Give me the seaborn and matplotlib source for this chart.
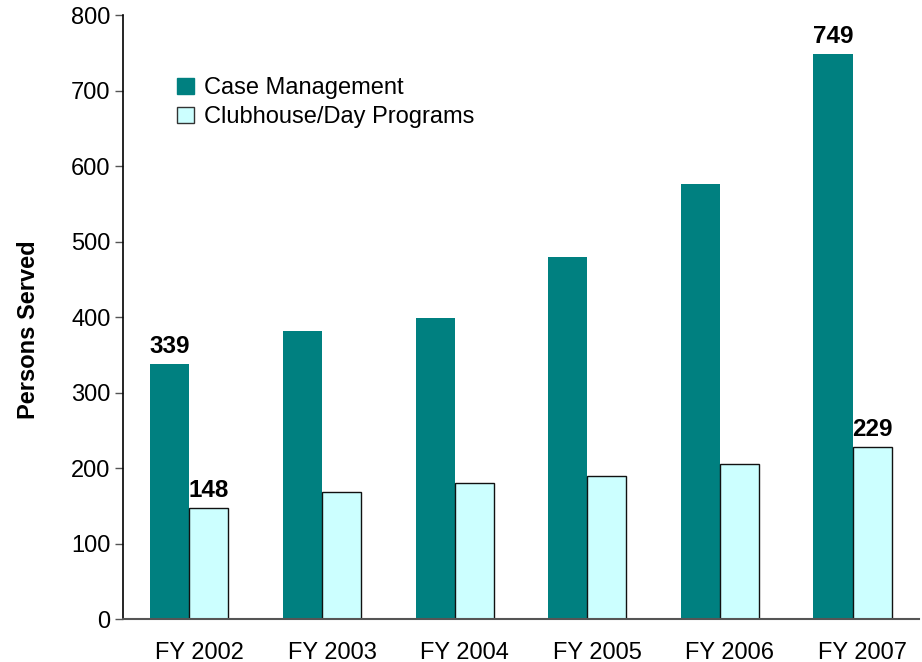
import matplotlib
matplotlib.use("Agg")
import matplotlib.pyplot as plt
import matplotlib.transforms as mtransforms
import seaborn as sns
import pandas as pd

years = ["FY 2002", "FY 2003", "FY 2004", "FY 2005", "FY 2006", "FY 2007"]
case_mgmt = [339, 382, 399, 480, 577, 749]
clubhouse = [148, 169, 181, 190, 206, 229]
series_names = ["Case Management", "Clubhouse/Day Programs"]
labeled_years = ["FY 2002", "FY 2007"]

df = pd.DataFrame({
    "Year": years * 2,
    "Program": [series_names[0]] * len(years) + [series_names[1]] * len(years),
    "Persons": case_mgmt + clubhouse,
})

sns.set_theme(style="white")
plt.rcParams["font.family"] = ["Liberation Sans", "DejaVu Sans"]

fig = plt.figure(figsize=(9.22, 6.62), dpi=100)
ax = fig.add_axes([0.1334, 0.0642, 0.8633, 0.9124])

palette = {series_names[0]: "#008080", series_names[1]: "#CCFFFF"}
sns.barplot(data=df, x="Year", y="Persons", hue="Program", order=years,
            hue_order=series_names, palette=palette, width=0.59,
            saturation=1, ax=ax, legend=True)

for i, cont in enumerate(ax.containers):
    for patch in cont.patches:
        if i == 0:
            patch.set_edgecolor("#008080")
            patch.set_linewidth(0)
        else:
            patch.set_edgecolor("#111111")
            patch.set_linewidth(1.0)
    vals = case_mgmt if i == 0 else clubhouse
    labels = [str(v) if y in labeled_years else "" for y, v in zip(years, vals)]
    ax.bar_label(cont, labels=labels, padding=4, fontsize=17.5, fontweight="bold",
                 color="black")

ax.set_ylim(0, 800)
ax.set_xlim(-0.5, 5.5)
ax.set_yticks(range(0, 801, 100))
ax.set_xlabel("")
ax.set_ylabel("Persons Served", fontsize=17, fontweight="bold", labelpad=22,
              color="black")
ax.yaxis.label.set_y(0.479)
ax.tick_params(axis="y", which="both", left=True, length=6, width=1,
               color="#555555", labelsize=17, pad=3, labelcolor="black")
ax.tick_params(axis="x", bottom=False, labelsize=17, pad=10, labelcolor="black")

offset = mtransforms.ScaledTranslation(0.10, 0, fig.dpi_scale_trans)
for lbl in ax.get_xticklabels():
    lbl.set_transform(lbl.get_transform() + offset)

for s in ["top", "right"]:
    ax.spines[s].set_visible(False)
ax.spines["left"].set_color("black")
ax.spines["left"].set_linewidth(1.2)
ax.spines["bottom"].set_color("#555555")
ax.spines["bottom"].set_linewidth(1.5)

leg = ax.legend(loc="upper left", bbox_to_anchor=(0.068, 0.898), frameon=False,
                fontsize=17, handlelength=0.7, handleheight=0.7,
                handletextpad=0.45, labelspacing=0.3, borderpad=0,
                borderaxespad=0, title=None)
for t in leg.get_texts():
    t.set_color("black")
handles = leg.legend_handles
handles[0].set_edgecolor("#008080")
handles[1].set_edgecolor("#333333")
handles[1].set_linewidth(1.0)

fig.savefig("out.png", dpi=100)
